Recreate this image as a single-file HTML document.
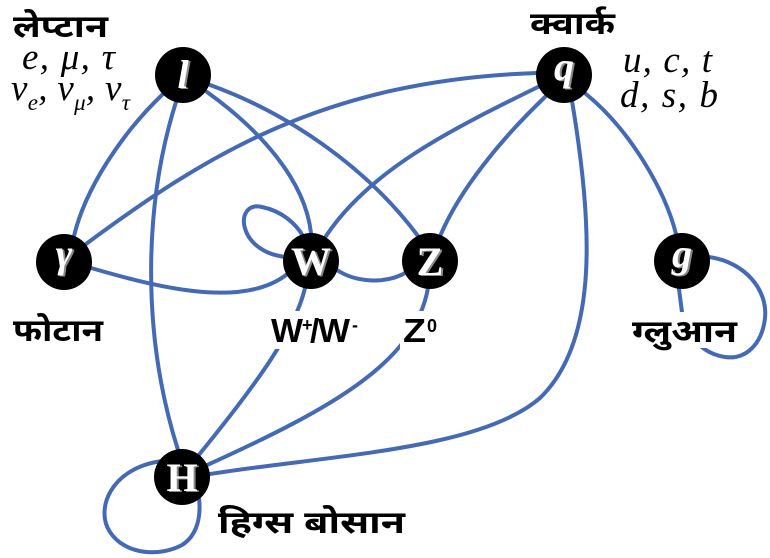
<!DOCTYPE html>
<html>
<head>
<meta charset="utf-8">
<style>
html,body{margin:0;padding:0;background:#fff;}
body{width:770px;height:558px;overflow:hidden;}
svg{display:block;}
.dev{font-family:"Liberation Sans","Noto Sans Devanagari","Lohit Devanagari","FreeSans",sans-serif;font-weight:bold;fill:#000;}
.it{font-family:"Liberation Serif","Times New Roman",serif;font-style:italic;fill:#000;}
.nd{font-family:"Liberation Serif",serif;font-weight:bold;}
.lb{font-family:"Liberation Sans",sans-serif;font-weight:bold;fill:#000;}
</style>
</head>
<body>
<svg width="770" height="558" viewBox="0 0 770 558" xmlns="http://www.w3.org/2000/svg">
  <g fill="none" stroke="#4469B5" stroke-width="4" stroke-linecap="round">
    <path d="M163 94 C120 135, 85 190, 74 236"/>
    <path d="M176 102 C145 200, 140 330, 178 450"/>
    <path d="M207 92 C260 130, 305 180, 311 233"/>
    <path d="M210 85 C285 112, 365 165, 418 236"/>
    <path d="M86 244 C200 160, 320 80, 537 73"/>
    <path d="M540 86 C450 130, 370 170, 326 236"/>
    <path d="M545 97 C500 140, 460 190, 441 234"/>
    <path d="M586 94 C630 130, 665 190, 676 234"/>
    <path d="M572 101 C592 220, 600 340, 540 398 C480 450, 330 455, 210 474"/>
    <path d="M305 288 C295 330, 260 380, 198 456"/>
    <path d="M428 288 C415 360, 340 405, 205 466"/>
    <path d="M91 268 C150 285, 240 310, 286 275"/>
    <path d="M337 270 C355 282, 385 285, 407 272"/>
    <path d="M286 257 C236 252, 234 200, 262 207 C282 211, 296 224, 303 236"/>
    <path d="M709 257 C745 262, 768 290, 765 318 C762 345, 745 360, 725 357 C705 354, 690 340, 683 320 L679 289"/>
    <path d="M162 461 C110 468, 95 510, 110 532 C125 555, 160 557, 182 545 C198 535, 201 515, 199 498"/>
  </g>

  <g fill="#fff">
    <rect x="268" y="311" width="96" height="38"/>
    <rect x="400" y="311" width="42" height="38"/>
    <rect x="628" y="312" width="114" height="36"/>
  </g>

  <g fill="#000">
    <circle cx="183" cy="75" r="28"/>
    <circle cx="564" cy="75" r="28"/>
    <circle cx="64" cy="262" r="28"/>
    <circle cx="311" cy="261" r="28"/>
    <circle cx="430" cy="261" r="28"/>
    <circle cx="682" cy="261" r="28"/>
    <circle cx="182" cy="477" r="28"/>
  </g>

  <g class="nd" font-size="40" text-anchor="middle" fill="#8a8a8a">
    <text x="185" y="89" font-style="italic">l</text>
    <text x="566" y="81" font-style="italic">q</text>
    <text x="66" y="268" font-style="italic">γ</text>
    <text x="313" y="276">W</text>
    <text x="432" y="276">Z</text>
    <text x="684" y="268" font-style="italic">g</text>
    <text x="184" y="492">H</text>
  </g>
  <g class="nd" font-size="40" text-anchor="middle" fill="#fff">
    <text x="183" y="88" font-style="italic">l</text>
    <text x="564" y="80" font-style="italic">q</text>
    <text x="64" y="267" font-style="italic">γ</text>
    <text x="311" y="275">W</text>
    <text x="430" y="275">Z</text>
    <text x="682" y="267" font-style="italic">g</text>
    <text x="182" y="491">H</text>
  </g>

  <text class="dev" x="13" y="37" font-size="31" textLength="95" lengthAdjust="spacingAndGlyphs">लेप्टान</text>
  <text class="dev" x="530" y="34" font-size="31" textLength="85" lengthAdjust="spacingAndGlyphs">क्वार्क</text>
  <text class="dev" x="13" y="341" font-size="31" textLength="90" lengthAdjust="spacingAndGlyphs">फोटान</text>
  <text class="dev" x="632" y="342" font-size="31" textLength="105" lengthAdjust="spacingAndGlyphs">ग्लुआन</text>
  <text class="dev" x="218" y="533" font-size="31" textLength="187" lengthAdjust="spacingAndGlyphs">हिग्स बोसान</text>

  <text class="it" x="22" y="69" font-size="37" textLength="93" lengthAdjust="spacing">e, μ, τ</text>
  <text class="it" x="11" y="100" font-size="37" textLength="119" lengthAdjust="spacing">ν<tspan font-size="23" dy="10">e</tspan><tspan dy="-10">, ν</tspan><tspan font-size="23" dy="10">μ</tspan><tspan dy="-10">, ν</tspan><tspan font-size="23" dy="10">τ</tspan></text>

  <text class="it" x="623" y="72" font-size="37" textLength="89" lengthAdjust="spacing">u, c, t</text>
  <text class="it" x="620" y="107" font-size="37" textLength="98" lengthAdjust="spacing">d, s, b</text>

  <text class="lb" x="271" y="342" font-size="33" textLength="32" lengthAdjust="spacingAndGlyphs">W</text>
  <text class="lb" x="302" y="331" font-size="18">+</text>
  <text class="lb" x="310" y="342" font-size="33">/</text>
  <text class="lb" x="318" y="342" font-size="33" textLength="32" lengthAdjust="spacingAndGlyphs">W</text>
  <text class="lb" x="352" y="331" font-size="18">-</text>

  <text class="lb" x="403" y="342" font-size="33" textLength="23" lengthAdjust="spacingAndGlyphs">Z</text>
  <text class="lb" x="427" y="332" font-size="18">0</text>
</svg>
</body>
</html>
